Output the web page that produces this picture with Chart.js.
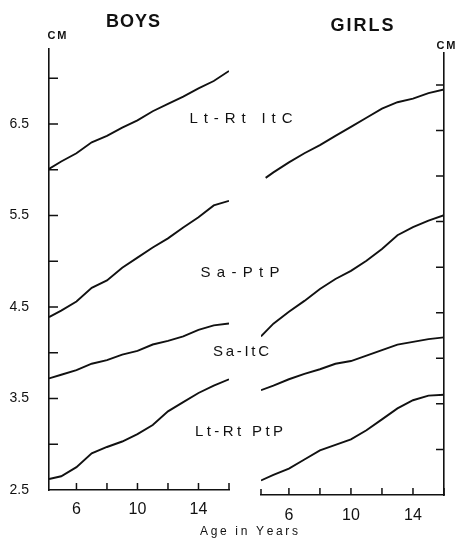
<!DOCTYPE html>
<html>
<head>
<meta charset="utf-8">
<script src="https://cdn.jsdelivr.net/npm/chart.js@4"></script>
<style>
  html, body { margin: 0; padding: 0; background: #fff; }
  #wrap { position: relative; width: 456px; height: 540px; }
  #wrap canvas { position: absolute; left: 0; top: 0; }
</style>
</head>
<body>
<div id="wrap">
  <canvas id="boys-chart" width="456" height="540"></canvas>
  <canvas id="girls-chart" width="456" height="540"></canvas>
</div>
<script>
/* Data (cm by age in years) */
let boysAges = [4.2, 5, 6, 7, 8, 9, 10, 11, 12, 13, 14, 15, 16]
let boysLtRtItC = [6.01, 6.09, 6.18, 6.30, 6.37, 6.46, 6.54, 6.64, 6.72, 6.80, 6.89, 6.97, 7.08]
let boysSaPtP = [4.39, 4.46, 4.56, 4.71, 4.79, 4.93, 5.04, 5.15, 5.25, 5.37, 5.48, 5.61, 5.66]
let boysSaItC = [3.72, 3.76, 3.81, 3.88, 3.92, 3.98, 4.02, 4.09, 4.13, 4.18, 4.25, 4.30, 4.32]
let boysLtRtPtP = [2.62, 2.65, 2.75, 2.90, 2.97, 3.03, 3.11, 3.21, 3.36, 3.46, 3.56, 3.64, 3.71]

let girlsAges = [4.2, 5, 6, 7, 8, 9, 10, 11, 12, 13, 14, 15, 16]
let girlsItCAges = [4.5, 5, 6, 7, 8, 9, 10, 11, 12, 13, 14, 15, 16]
let girlsLtRtItC = [5.98, 6.04, 6.15, 6.25, 6.34, 6.44, 6.54, 6.64, 6.74, 6.81, 6.85, 6.91, 6.95]
let girlsSaPtP = [4.24, 4.38, 4.51, 4.63, 4.76, 4.87, 4.96, 5.07, 5.20, 5.35, 5.44, 5.51, 5.57]
let girlsSaItC = [3.65, 3.70, 3.77, 3.83, 3.88, 3.94, 3.97, 4.03, 4.09, 4.15, 4.18, 4.21, 4.23]
let girlsLtRtPtP = [2.66, 2.72, 2.79, 2.89, 2.99, 3.05, 3.11, 3.21, 3.33, 3.45, 3.54, 3.59, 3.60]

/* Axis ticks */
let xTicks = [6, 8, 10, 12, 14, 16]
let xLabels = [6, 10, 14]
let yTicks = [2.5, 3, 3.5, 4, 4.5, 5, 5.5, 6, 6.5, 7]
let yLabels = [2.5, 3.5, 4.5, 5.5, 6.5]

let ink = '#111'
let family = '"Liberation Sans", Arial, sans-serif'

function curve(ages, values) {
    return {
        data: ages.map((a, i) => ({ x: a, y: values[i] })),
        borderColor: ink,
        borderWidth: 1.9,
        pointRadius: 0,
        tension: 0,
        fill: false
    }
}

function xScale(height, pad) {
    return {
        type: 'linear', min: 4.2, max: 16,
        grid: { display: false },
        border: { display: true, color: ink, width: 1.6 },
        afterBuildTicks: s => { s.ticks = xTicks.map(v => ({ value: v })) },
        afterFit: s => { s.height = height },
        ticks: {
            autoSkip: false, maxRotation: 0, padding: pad, color: ink,
            font: { size: 16, family: family },
            callback: v => xLabels.includes(v) ? String(v) : ''
        }
    }
}

function yScale(position, max, width, showLabels) {
    return {
        type: 'linear', position: position, min: 2.5, max: max,
        grid: { display: false },
        border: { display: true, color: ink, width: 1.6 },
        afterBuildTicks: s => { s.ticks = yTicks.map(v => ({ value: v })) },
        afterFit: s => { s.width = width },
        ticks: {
            display: showLabels, autoSkip: false, padding: 12, color: ink,
            font: { size: 14, family: family },
            callback: v => yLabels.includes(v) ? v.toFixed(1) : ''
        }
    }
}

// short tick marks pointing into the plot, like the original
function tickMarks(side) {
    return {
        id: 'tickMarks',
        afterDraw(chart) {
            let ctx = chart.ctx
            let area = chart.chartArea
            let xs = chart.scales.x, ys = chart.scales.y
            ctx.save()
            ctx.strokeStyle = ink
            ctx.lineWidth = 1.5
            ctx.beginPath()
            yTicks.forEach(v => {
                let py = ys.getPixelForValue(v)
                if (v == 2.5) return
                if (side == 'left') { ctx.moveTo(area.left, py); ctx.lineTo(area.left + 9, py) }
                else { ctx.moveTo(area.right, py); ctx.lineTo(area.right - 8, py) }
            })
            xTicks.forEach(v => {
                let px = xs.getPixelForValue(v)
                ctx.moveTo(px, area.bottom); ctx.lineTo(px, area.bottom - 7)
            })
            if (side == 'right') { ctx.moveTo(area.left, area.bottom); ctx.lineTo(area.left, area.bottom - 6) }
            ctx.stroke()
            ctx.restore()
        }
    }
}

// captions, spread out letter by letter to the width they take in the figure
let captions = [
    { text: 'BOYS', x: 133, y: 22, w: 54, size: 18, bold: true },
    { text: 'GIRLS', x: 362, y: 26, w: 63, size: 18, bold: true },
    { text: 'CM', x: 57, y: 36, w: 19, size: 11, bold: true },
    { text: 'CM', x: 446, y: 46, w: 19, size: 11, bold: true },
    { text: 'Lt-Rt ItC', x: 241, y: 119, w: 103, size: 15 },
    { text: 'Sa-PtP', x: 240, y: 273, w: 79, size: 15 },
    { text: 'Sa-ItC', x: 241, y: 352, w: 56, size: 15 },
    { text: 'Lt-Rt PtP', x: 239, y: 432, w: 88, size: 15 },
    { text: 'Age in Years', x: 249, y: 532, w: 98, size: 12 }
]

let captionPlugin = {
    id: 'captions',
    afterDraw(chart) {
        let ctx = chart.ctx
        ctx.save()
        ctx.fillStyle = ink
        ctx.textBaseline = 'middle'
        ctx.textAlign = 'left'
        captions.forEach(t => {
            ctx.font = (t.bold ? 'bold ' : '') + t.size + 'px ' + family
            let chars = t.text.split('')
            let widths = chars.map(c => ctx.measureText(c).width)
            let natural = widths.reduce((a, b) => a + b, 0)
            let gap = chars.length > 1 ? (t.w - natural) / (chars.length - 1) : 0
            let x = t.x - t.w / 2
            chars.forEach((c, i) => {
                ctx.fillText(c, x, t.y)
                x += widths[i] + gap
            })
        })
        ctx.restore()
    }
}

let boysChart = new Chart(document.querySelector('#boys-chart').getContext('2d'), {
    type: 'line',
    data: {
        datasets: [
            curve(boysAges, boysLtRtItC),
            curve(boysAges, boysSaPtP),
            curve(boysAges, boysSaItC),
            curve(boysAges, boysLtRtPtP)
        ]
    },
    options: {
        responsive: false,
        animation: false,
        layout: { padding: { top: 49, right: 227, left: 0, bottom: 0 } },
        plugins: { legend: { display: false }, tooltip: { enabled: false } },
        scales: {
            x: xScale(50, 2),
            y: yScale('left', 7.32, 49, true)
        }
    },
    plugins: [tickMarks('left'), captionPlugin]
})

let girlsChart = new Chart(document.querySelector('#girls-chart').getContext('2d'), {
    type: 'line',
    data: {
        datasets: [
            curve(girlsItCAges, girlsLtRtItC),
            curve(girlsAges, girlsSaPtP),
            curve(girlsAges, girlsSaItC),
            curve(girlsAges, girlsLtRtPtP)
        ]
    },
    options: {
        responsive: false,
        animation: false,
        layout: { padding: { top: 53, right: 0, left: 261, bottom: 0 } },
        plugins: { legend: { display: false }, tooltip: { enabled: false } },
        scales: {
            x: xScale(45, 3),
            y: yScale('right', 7.35, 12, false)
        }
    },
    plugins: [tickMarks('right')]
})
</script>
</body>
</html>
